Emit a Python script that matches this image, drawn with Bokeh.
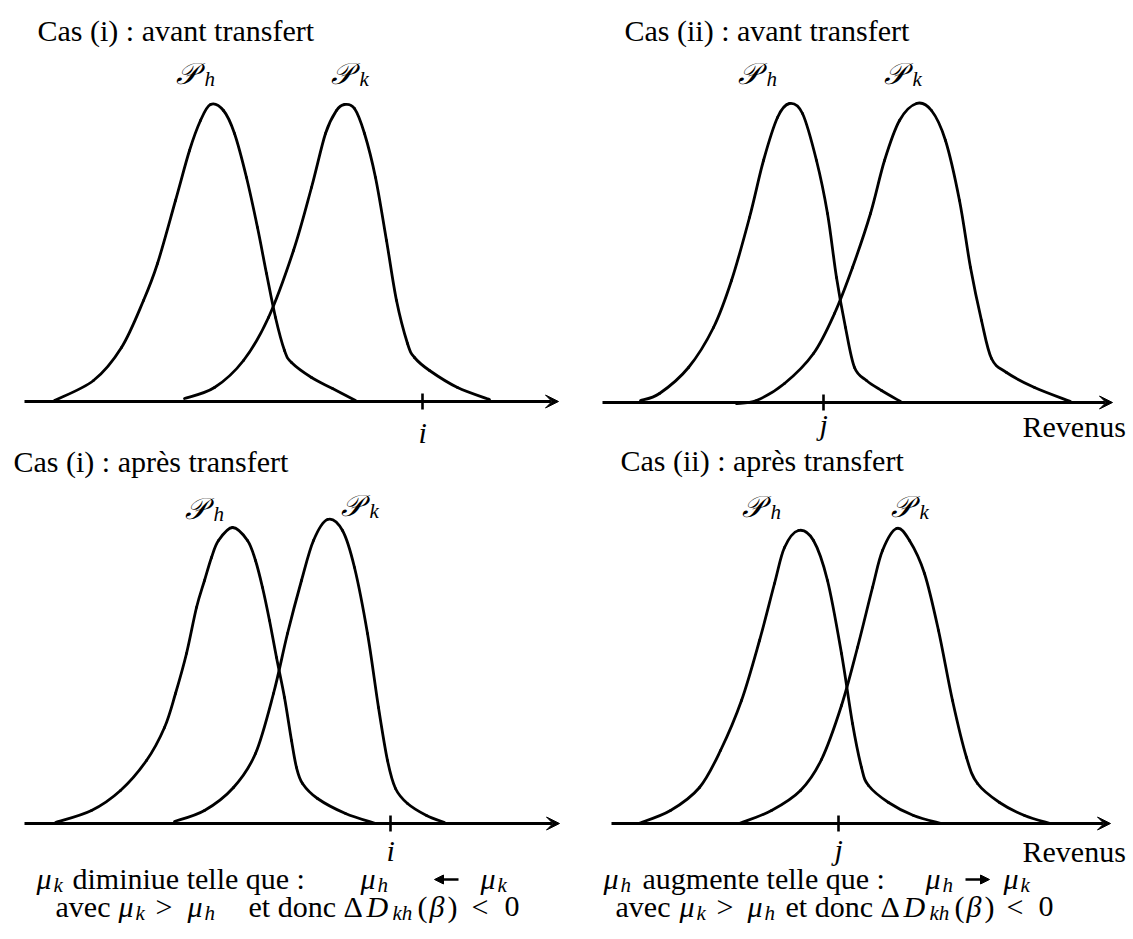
import numpy as np
from bokeh.plotting import figure
from bokeh.models import Range1d, Arrow, VeeHead, NormalHead
from bokeh.core.properties import value
from bokeh.embed import file_html
from bokeh.resources import INLINE

# ---------------- data (income measured from each axis origin, density = height above axis)
ph_i_before_income = [30, 69, 97, 119, 133, 151, 165, 176, 186, 199, 210, 222, 233, 242, 251, 260, 267, 287, 308, 331]
ph_i_before_density = [1, 21, 54, 101, 138, 201, 251, 281, 297, 291, 268, 224, 174, 128, 84, 51, 39, 24, 13, 1]
pk_i_before_income = [160, 190, 219, 244, 269, 287, 301, 312, 320, 330, 340, 351, 362, 372, 383, 390, 405, 433, 465]
pk_i_before_density = [3, 14, 41, 84, 151, 214, 268, 291, 297, 293, 268, 224, 161, 101, 58, 44, 31, 14, 2]

ph_ii_before_income = [38, 57, 86, 111, 129, 147, 161, 175, 187, 200, 214, 225, 234, 243, 252, 264, 279, 298]
ph_ii_before_density = [2, 9, 35, 75, 122, 185, 242, 285, 299, 289, 242, 189, 125, 75, 35, 22, 12, 1]
pk_ii_before_income = [134, 154, 182, 211, 232, 250, 268, 282, 297, 314, 329, 343, 357, 368, 379, 389, 404, 432, 468]
pk_ii_before_density = [-1, 2, 19, 49, 89, 135, 189, 242, 282, 299, 292, 262, 202, 135, 82, 44, 30, 15, 1]

ph_i_after_income = [31, 67, 96, 122, 140, 151, 162, 172, 180, 187, 194, 208, 223, 231, 238, 245, 252, 260, 267, 272, 278, 293, 321, 351]
ph_i_after_density = [1, 13, 33, 63, 96, 130, 170, 216, 243, 266, 283, 296, 283, 263, 236, 203, 166, 126, 83, 56, 40, 25, 10, 0]
pk_i_after_income = [150, 180, 209, 231, 249, 263, 277, 289, 303, 318, 330, 343, 354, 363, 371, 383, 402, 420]
pk_i_after_density = [2, 13, 36, 70, 130, 190, 243, 283, 304, 293, 256, 190, 116, 63, 35, 20, 8, 1]

ph_ii_after_income = [27, 59, 88, 109, 130, 148, 163, 173, 187, 202, 216, 230, 241, 250, 257, 277, 302, 330]
ph_ii_after_density = [0, 13, 36, 73, 123, 183, 240, 276, 293, 283, 243, 170, 100, 56, 38, 21, 8, 0]
pk_ii_after_income = [128, 160, 189, 210, 230, 246, 261, 271, 285, 298, 313, 327, 341, 355, 366, 388, 413, 439]
pk_ii_after_density = [0, 13, 33, 64, 118, 176, 236, 273, 295, 283, 250, 193, 123, 66, 40, 21, 8, 0]

threshold_income = [398, 221, 366, 227]      # i, j, i, j
threshold_labels = ["i", "j", "i", "j"]
panel_titles = ["Cas (i) : avant transfert", "Cas (ii) : avant transfert",
                "Cas (i) : après transfert", "Cas (ii) : après transfert"]
axis_label = "Revenus"

# ---------------- layout (screen pixels)
W, H = 1130, 936
TEXT_DY = -9   # rendered alphabetic baseline sits a little low in the svg backend
panels = [
    dict(x0=24, base=401, xend=558, title=(37, 39), ph=(175, 82), pk=(330, 82), lab_y=441, rev=None),
    dict(x0=602, base=402, xend=1112, title=(624, 39), ph=(737, 82), pk=(883, 82), lab_y=433, rev=(1022, 435)),
    dict(x0=24, base=823, xend=559, title=(13, 470), ph=(184, 517), pk=(340, 514), lab_y=859, rev=None),
    dict(x0=611, base=823, xend=1110, title=(620, 469), ph=(741, 515), pk=(890, 515), lab_y=858, rev=(1022, 860)),
]
curves = [
    [(ph_i_before_income, ph_i_before_density), (pk_i_before_income, pk_i_before_density)],
    [(ph_ii_before_income, ph_ii_before_density), (pk_ii_before_income, pk_ii_before_density)],
    [(ph_i_after_income, ph_i_after_density), (pk_i_after_income, pk_i_after_density)],
    [(ph_ii_after_income, ph_ii_after_density), (pk_ii_after_income, pk_ii_after_density)],
]

p = figure(width=W, height=H, x_range=Range1d(0, W), y_range=Range1d(-H, 0),
           x_axis_type=None, y_axis_type=None, toolbar_location=None, output_backend="svg",
           min_border=0, outline_line_color=None)
p.background_fill_color = "white"

SERIF = value("'Liberation Serif', 'Times New Roman', serif")
LW = 2.8

def Y(page_y):
    return -np.asarray(page_y, dtype=float)

def smooth_curve(xs, ys):
    xs = np.asarray(xs, float); ys = np.asarray(ys, float)
    n = len(xs)
    px = np.concatenate([[xs[0]], xs, [xs[-1]]])
    py = np.concatenate([[ys[0]], ys, [ys[-1]]])
    cx0 = px[1:n] + (px[2:n + 1] - px[0:n - 1]) / 6.0
    cy0 = py[1:n] + (py[2:n + 1] - py[0:n - 1]) / 6.0
    cx1 = px[2:n + 1] - (px[3:n + 2] - px[1:n]) / 6.0
    cy1 = py[2:n + 1] - (py[3:n + 2] - py[1:n]) / 6.0
    p.bezier(x0=xs[:-1], y0=ys[:-1], x1=xs[1:], y1=ys[1:], cx0=cx0, cy0=cy0, cx1=cx1, cy1=cy1,
             line_color="black", line_width=LW, line_cap="round")

runs = {"rm": ([], [], []), "it": ([], [], []), "sub": ([], [], []), "P": ([], [], [])}
def put(kind, x, y, s):
    runs[kind][0].append(x); runs[kind][1].append(-(y + TEXT_DY)); runs[kind][2].append(s)

for k, pan in enumerate(panels):
    x0, base = pan["x0"], pan["base"]
    p.add_layout(Arrow(x_start=x0, y_start=-base, x_end=pan["xend"], y_end=-base,
                       line_width=LW, line_color="black",
                       end=VeeHead(size=13, fill_color="black", line_color="black", line_width=1)))
    for inc, dens in curves[k]:
        smooth_curve(x0 + np.asarray(inc, float), Y(base - np.asarray(dens, float)))
    tx = x0 + threshold_income[k]
    p.segment(x0=[tx], y0=[-(base - 8)], x1=[tx], y1=[-(base + 8)], line_color="black", line_width=2.6)
    put("it", tx - 4, pan["lab_y"], threshold_labels[k])
    put("rm", pan["title"][0], pan["title"][1], panel_titles[k])
    for (lx, ly), sub in ((pan["ph"], "h"), (pan["pk"], "k")):
        put("P", lx, ly, "𝒫")
        put("sub", lx + 29, ly + 5, sub)
    if pan["rev"]:
        put("rm", pan["rev"][0], pan["rev"][1], axis_label)

def mu(x, y, s):
    put("it", x, y, "μ"); put("sub", x + 17, y + 6, s)

yb1, yb2 = 887, 915
arrow_y = 879
# bottom-left
mu(36, yb1, "k")
put("rm", 72, yb1, "diminiue telle que :")
mu(360, yb1, "h")
mu(480, yb1, "k")
put("rm", 55, yb2, "avec")
mu(118, yb2, "k")
put("rm", 155, yb2, ">")
mu(187, yb2, "h")
put("rm", 248, yb2, "et donc")
put("rm", 343, yb2, "Δ")
put("it", 366, yb2, "D")
put("sub", 392, yb2 + 6, "kh")
put("rm", 417, yb2, "(")
put("it", 429, yb2, "β")
put("rm", 447, yb2, ")")
put("rm", 471, yb2, "<")
put("rm", 504, yb2, "0")
p.add_layout(Arrow(x_start=458, y_start=-arrow_y, x_end=434, y_end=-arrow_y, line_width=2.6,
                   line_color="black", end=NormalHead(size=9, fill_color="black", line_color="black")))

# bottom-right
mu(603, yb1, "h")
put("rm", 642, yb1, "augmente telle que :")
mu(925, yb1, "h")
mu(1003, yb1, "k")
put("rm", 615, yb2, "avec")
mu(679, yb2, "k")
put("rm", 716, yb2, ">")
mu(747, yb2, "h")
put("rm", 785, yb2, "et donc")
put("rm", 880, yb2, "Δ")
put("it", 903, yb2, "D")
put("sub", 929, yb2 + 6, "kh")
put("rm", 954, yb2, "(")
put("it", 966, yb2, "β")
put("rm", 984, yb2, ")")
put("rm", 1006, yb2, "<")
put("rm", 1038, yb2, "0")
p.add_layout(Arrow(x_start=965, y_start=-arrow_y, x_end=989, y_end=-arrow_y, line_width=2.6,
                   line_color="black", end=NormalHead(size=9, fill_color="black", line_color="black")))

styles = {"rm": ("30px", "normal"), "it": ("30px", "italic"),
          "sub": ("21px", "italic"), "P": ("30px", "italic")}
for kind, (xs, ys, ts) in runs.items():
    size, style = styles[kind]
    p.text(x=xs, y=ys, text=ts, text_font=SERIF, text_font_size=size, text_font_style=style,
           text_align="left", text_baseline="alphabetic", text_color="black")

open("out.html", "w").write(file_html(p, INLINE))
